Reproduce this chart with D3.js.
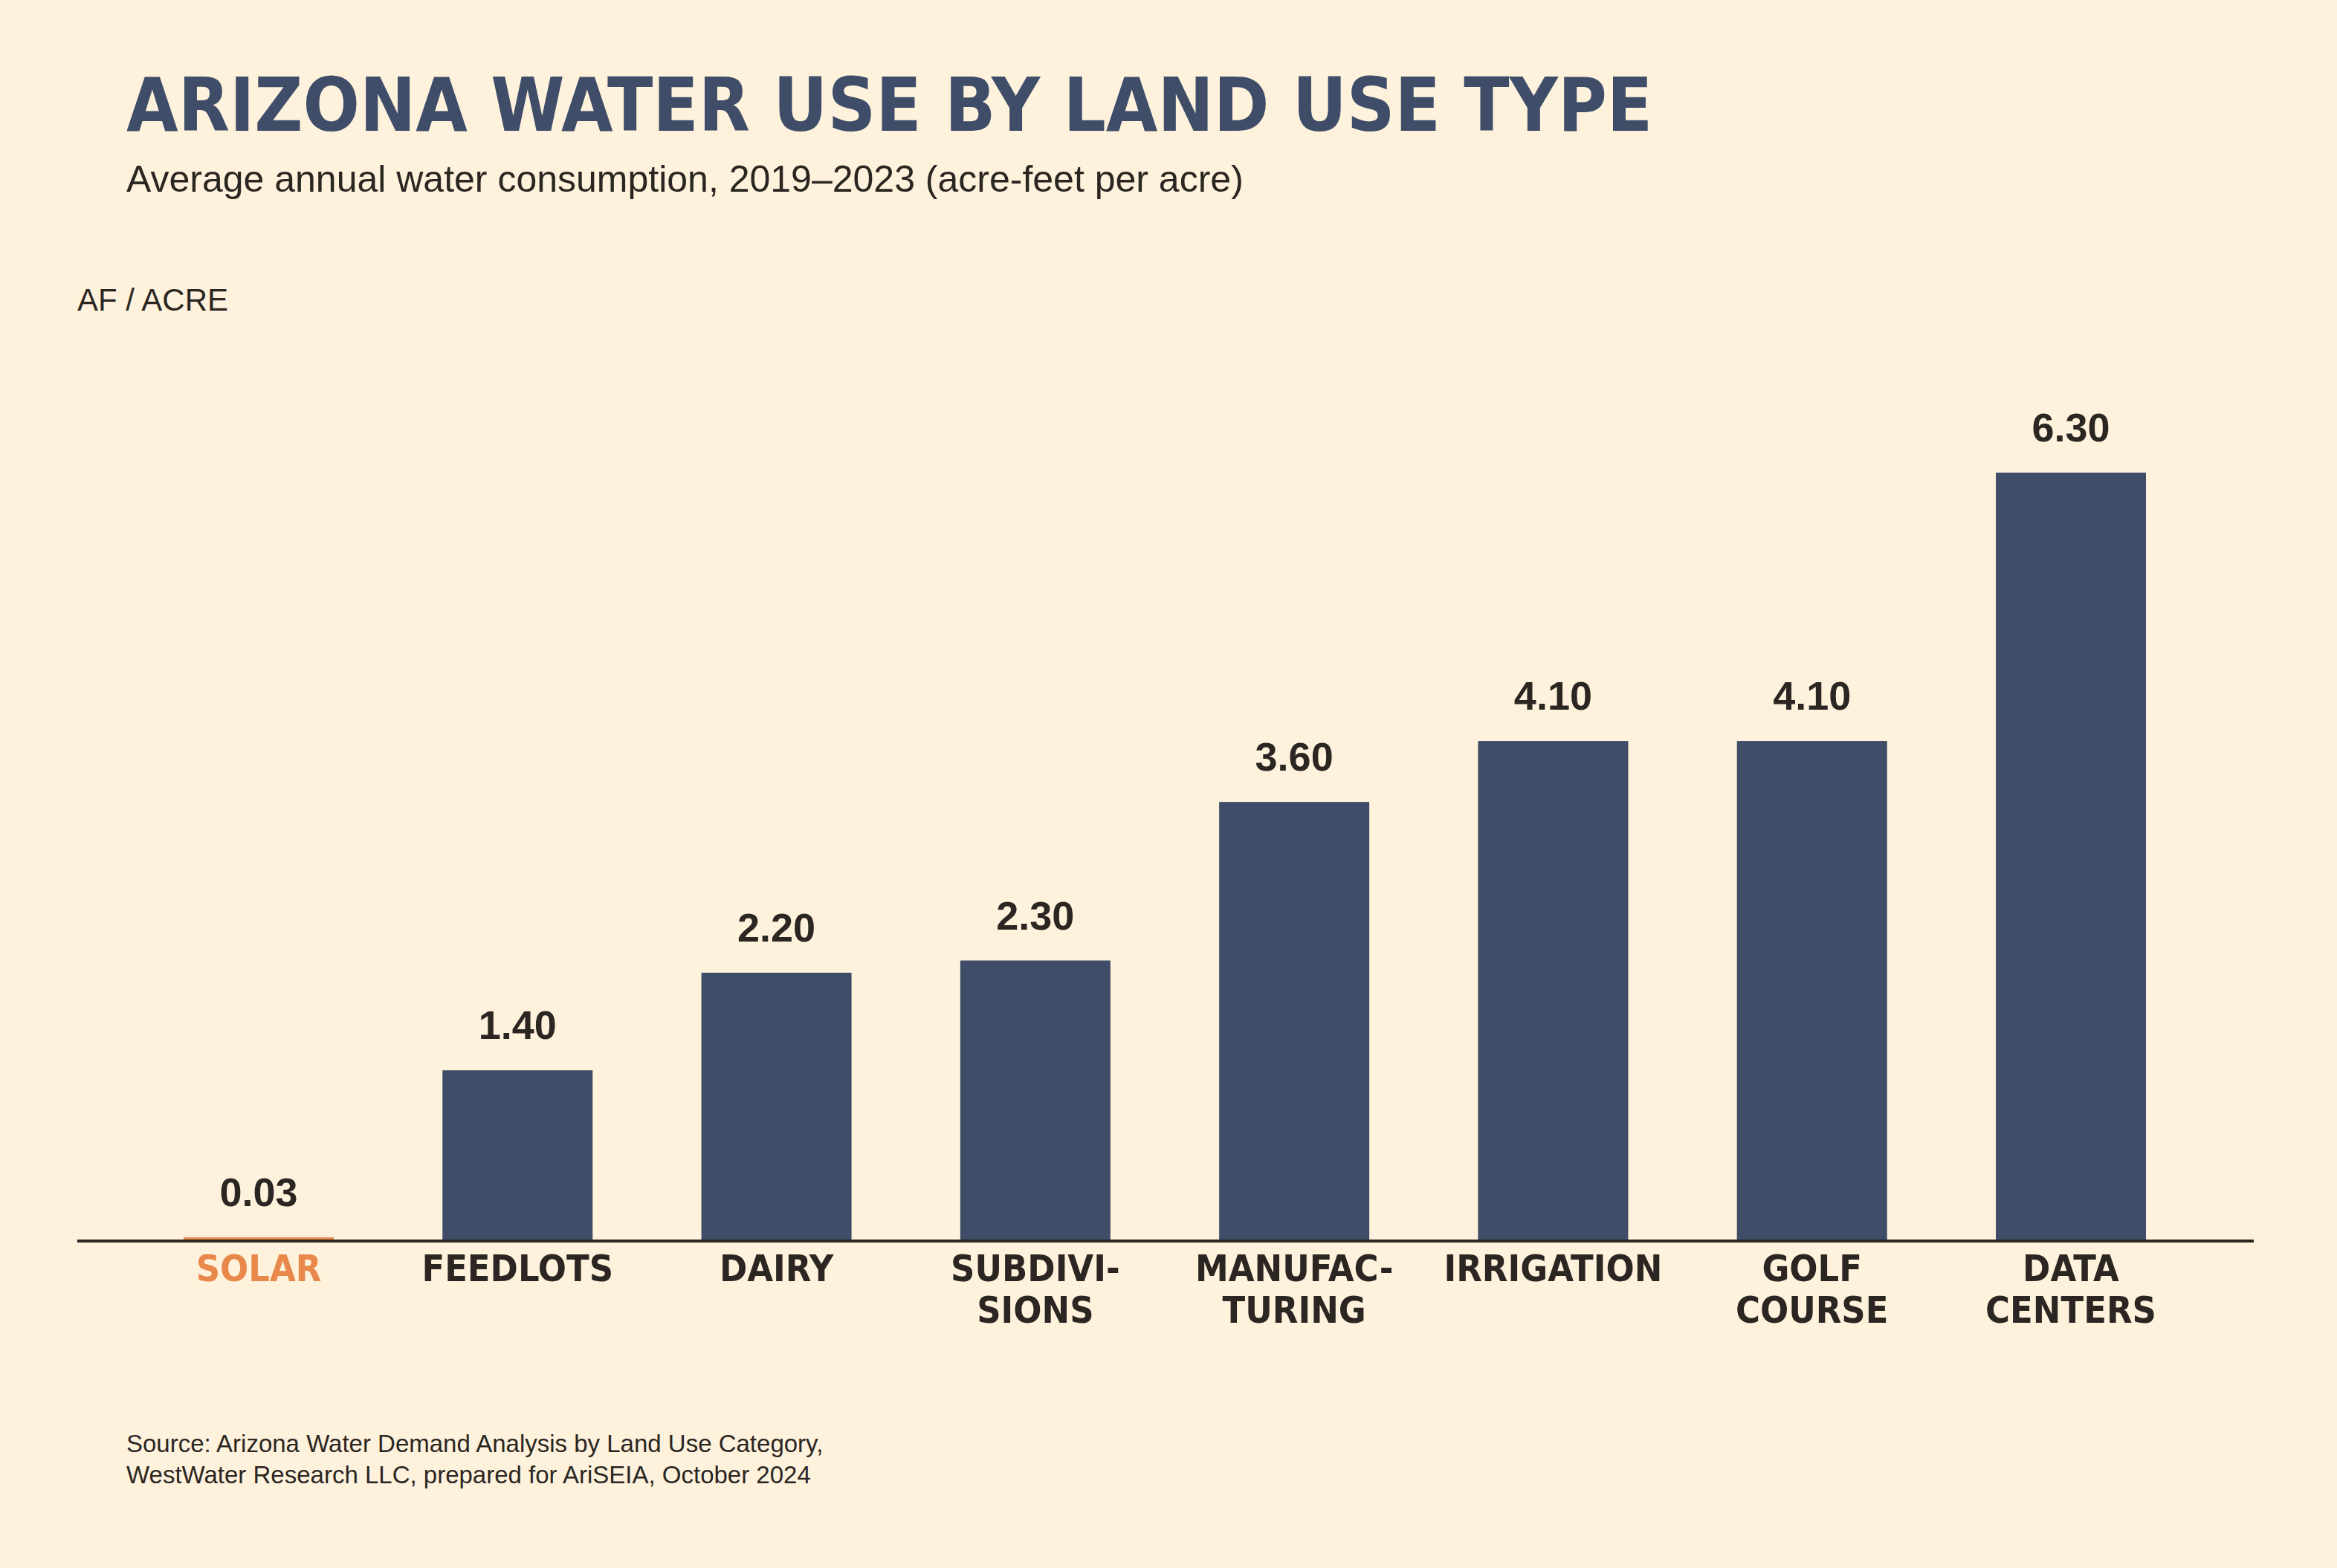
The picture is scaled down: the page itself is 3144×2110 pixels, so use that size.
<!DOCTYPE html>
<html><head><meta charset="utf-8">
<script src="https://cdn.jsdelivr.net/npm/d3@7"></script>
<style>body{margin:0;background:#fef2dd}</style>
</head><body>
<svg id="chart" width="3144" height="2110"></svg>
<script>
const categories = ["SOLAR","FEEDLOTS","DAIRY","SUBDIVISIONS","MANUFACTURING","IRRIGATION","GOLF COURSE","DATA CENTERS"];
const labelLines = [["SOLAR"],["FEEDLOTS"],["DAIRY"],["SUBDIVI-","SIONS"],["MANUFAC-","TURING"],["IRRIGATION"],["GOLF","COURSE"],["DATA","CENTERS"]];
const values = [0.03,1.40,2.20,2.30,3.60,4.10,4.10,6.30];

const svg = d3.select("#chart");
const narrow = "'Liberation Sans Narrow','DejaVu Sans Condensed',sans-serif";
const sans = "'Liberation Sans',Arial,sans-serif";
const navy = "#3f4d68", orange = "#e8884a", ink = "#2b2622";

svg.append("rect").attr("width",3144).attr("height",2110).attr("fill","#fef2dd");

svg.append("text").attr("x",170).attr("y",176).attr("font-family",narrow)
  .attr("font-weight","bold").attr("font-size",100).attr("fill",navy)
  .text("ARIZONA WATER USE BY LAND USE TYPE");
svg.append("text").attr("x",170).attr("y",258).attr("font-family",sans)
  .attr("font-size",50).attr("fill",ink)
  .text("Average annual water consumption, 2019\u20132023 (acre-feet per acre)");
svg.append("text").attr("x",104).attr("y",418).attr("font-family",sans)
  .attr("font-size",42).attr("fill",ink).text("AF / ACRE");

const x = d3.scalePoint().domain(categories).range([348,2786]);
const y = d3.scaleLinear().domain([0,6.3]).range([1670,636]);
const bw = 202;

svg.selectAll(".bar").data(values).enter().append("rect")
  .attr("x",(d,i)=>x(categories[i])-bw/2).attr("width",bw)
  .attr("y",d=>y(d)).attr("height",d=>y(0)-y(d))
  .attr("fill",(d,i)=>i===0?orange:navy);

svg.selectAll(".val").data(values).enter().append("text")
  .attr("x",(d,i)=>x(categories[i])).attr("y",d=>y(d)-42)
  .attr("text-anchor","middle").attr("font-family",sans).attr("font-weight","bold")
  .attr("font-size",54).attr("fill",ink).text(d=>d.toFixed(2));

svg.append("line").attr("x1",104).attr("x2",3032).attr("y1",y(0)).attr("y2",y(0))
  .attr("stroke",ink).attr("stroke-width",4);

labelLines.forEach((lines,i)=>{
  const t = svg.append("text").attr("x",x(categories[i])).attr("y",1724)
    .attr("text-anchor","middle").attr("font-family",narrow).attr("font-weight","bold")
    .attr("font-size",50).attr("fill",i===0?orange:ink);
  lines.forEach((l,j)=>t.append("tspan").attr("x",x(categories[i])).attr("dy",j?56:0).text(l));
});

svg.append("text").attr("x",170).attr("y",1954).attr("font-family",sans)
  .attr("font-size",33).attr("fill",ink)
  .text("Source: Arizona Water Demand Analysis by Land Use Category,");
svg.append("text").attr("x",170).attr("y",1996).attr("font-family",sans)
  .attr("font-size",33).attr("fill",ink)
  .text("WestWater Research LLC, prepared for AriSEIA, October 2024");
</script>
</body></html>
